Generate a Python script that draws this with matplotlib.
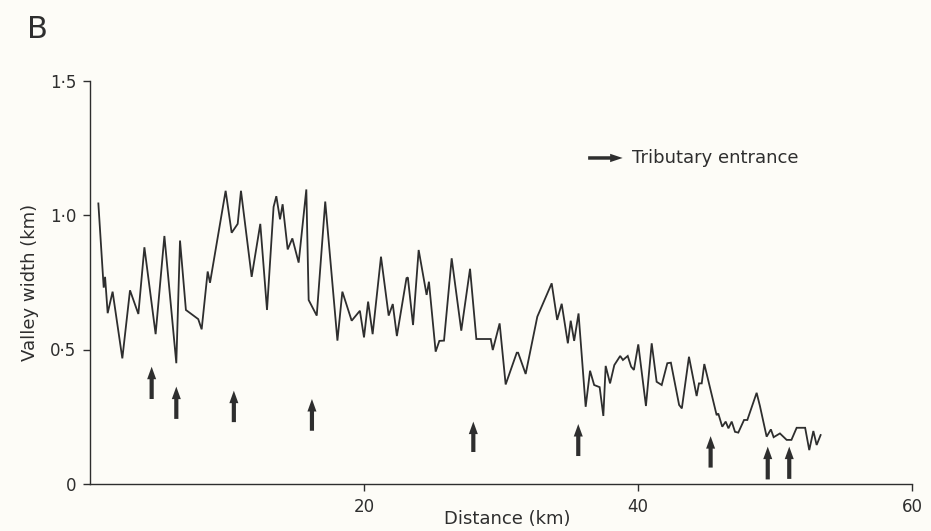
import matplotlib
matplotlib.use("Agg")
import matplotlib.pyplot as plt

# ---- data ----
distance_km = [0.61, 0.95, 1.0, 1.1, 1.29, 1.65, 2.36, 2.92, 3.53, 3.97, 4.79, 5.43, 6.3, 6.57,
               7.0, 7.9, 8.15, 8.59, 8.76, 9.9, 10.34, 10.78, 11.02, 11.8, 12.43, 12.92, 13.4,
               13.6, 13.87, 14.06, 14.43, 14.77, 15.23, 15.79, 15.96, 16.55, 17.17, 18.06,
               18.42, 19.1, 19.7, 20.0, 20.3, 20.63, 21.24, 21.8, 22.1, 22.4, 23.1, 23.2,
               23.58, 23.99, 24.57, 24.74, 25.23, 25.5, 25.84, 26.4, 27.1, 27.74, 28.2, 29.25,
               29.4, 29.9, 30.34, 31.15, 31.25, 31.8, 32.65, 33.7, 34.1, 34.43, 34.88, 35.09,
               35.34, 35.66, 36.18, 36.5, 36.8, 37.2, 37.47, 37.64, 37.96, 38.27, 38.7, 38.9,
               39.25, 39.5, 39.7, 40.02, 40.58, 41.0, 41.36, 41.73, 42.14, 42.4, 43.0, 43.2,
               43.72, 44.28, 44.45, 44.65, 44.84, 45.74, 45.86, 46.15, 46.4, 46.6, 46.84,
               47.08, 47.32, 47.74, 47.98, 48.66, 48.9, 49.39, 49.7, 49.9, 50.36, 50.85,
               51.2, 51.58, 52.2, 52.5, 52.8, 53.04, 53.33]
valley_width_km = [1.043, 0.77, 0.73, 0.77, 0.635, 0.715, 0.467, 0.72, 0.632, 0.88, 0.557, 0.922,
                   0.449, 0.905, 0.647, 0.613, 0.575, 0.79, 0.748, 1.09, 0.934, 0.967, 1.09,
                   0.77, 0.967, 0.647, 1.03, 1.07, 0.984, 1.04, 0.872, 0.913, 0.823, 1.095,
                   0.684, 0.626, 1.05, 0.533, 0.715, 0.607, 0.644, 0.545, 0.678, 0.557, 0.845,
                   0.626, 0.669, 0.55, 0.765, 0.768, 0.591, 0.87, 0.703, 0.752, 0.492, 0.532,
                   0.533, 0.839, 0.57, 0.8, 0.539, 0.539, 0.498, 0.597, 0.37, 0.488, 0.488,
                   0.409, 0.622, 0.746, 0.61, 0.67, 0.523, 0.607, 0.532, 0.634, 0.287, 0.421,
                   0.368, 0.36, 0.253, 0.439, 0.374, 0.442, 0.476, 0.461, 0.476, 0.436, 0.424,
                   0.519, 0.29, 0.523, 0.38, 0.368, 0.449, 0.451, 0.294, 0.281, 0.473, 0.327,
                   0.374, 0.374, 0.446, 0.256, 0.262, 0.213, 0.232, 0.207, 0.232, 0.194, 0.191,
                   0.238, 0.238, 0.339, 0.29, 0.176, 0.203, 0.174, 0.188, 0.164, 0.164, 0.209,
                   0.209, 0.126, 0.197, 0.145, 0.182]

tributary_km = [4.5, 6.3, 10.5, 16.2, 27.98, 35.64, 45.3, 49.47, 51.04]
arrow_tip = [0.436, 0.362, 0.347, 0.316, 0.232, 0.223, 0.178, 0.139, 0.139]
arrow_base = [0.316, 0.242, 0.23, 0.198, 0.119, 0.104, 0.061, 0.017, 0.019]

x_ticks = [20, 40, 60]
x_ticklabels = ["20", "40", "60"]
y_ticks = [0, 0.5, 1.0, 1.5]
y_ticklabels = ["0", "0\u00b75", "1\u00b70", "1\u00b75"]

INK = "#2e2e2e"
BG = "#fdfcf7"

plt.rcParams["font.family"] = ["DejaVu Sans"]

fig = plt.figure(figsize=(9.31, 5.31), dpi=100, facecolor=BG)
W, H = 931, 531
ax = fig.add_axes([90 / W, (H - 484) / H, 822 / W, 403.5 / H])
ax.set_facecolor(BG)

ax.plot(distance_km, valley_width_km, color=INK, lw=1.3, solid_joinstyle="miter")

for x, t, b in zip(tributary_km, arrow_tip, arrow_base):
    ax.annotate("", xy=(x, t), xytext=(x, b),
                arrowprops=dict(arrowstyle="simple,head_length=0.9,head_width=0.65,tail_width=0.3",
                                color=INK, lw=0, shrinkA=0, shrinkB=0, mutation_scale=10))

# legend
ax.annotate("", xy=(0.648, 0.808), xytext=(0.606, 0.808), xycoords="axes fraction",
            arrowprops=dict(arrowstyle="simple,head_length=0.9,head_width=0.6,tail_width=0.25",
                            color=INK, lw=0, shrinkA=0, shrinkB=0, mutation_scale=10))
ax.text(0.659, 0.808, "Tributary entrance", transform=ax.transAxes, fontsize=13,
        color=INK, va="center", ha="left")

ax.set_xlim(0, 60)
ax.set_ylim(0, 1.5)
ax.set_xticks(x_ticks)
ax.set_xticklabels(x_ticklabels)
ax.set_yticks(y_ticks)
ax.set_yticklabels(y_ticklabels)

for s in ["top", "right"]:
    ax.spines[s].set_visible(False)
for s in ["left", "bottom"]:
    ax.spines[s].set_color(INK)
    ax.spines[s].set_linewidth(1.0)

ax.tick_params(axis="both", colors=INK, labelsize=12, length=5, width=1.0, pad=5)
ax.set_xlabel("Distance (km)", fontsize=13, color=INK, labelpad=-4, x=0.508)
ax.set_ylabel("Valley width (km)", fontsize=13, color=INK, labelpad=8)

fig.text(27 / W, 1 - 38 / H, "B", fontsize=22, color=INK, ha="left", va="baseline")

fig.savefig("out.png", dpi=100, facecolor=BG)
